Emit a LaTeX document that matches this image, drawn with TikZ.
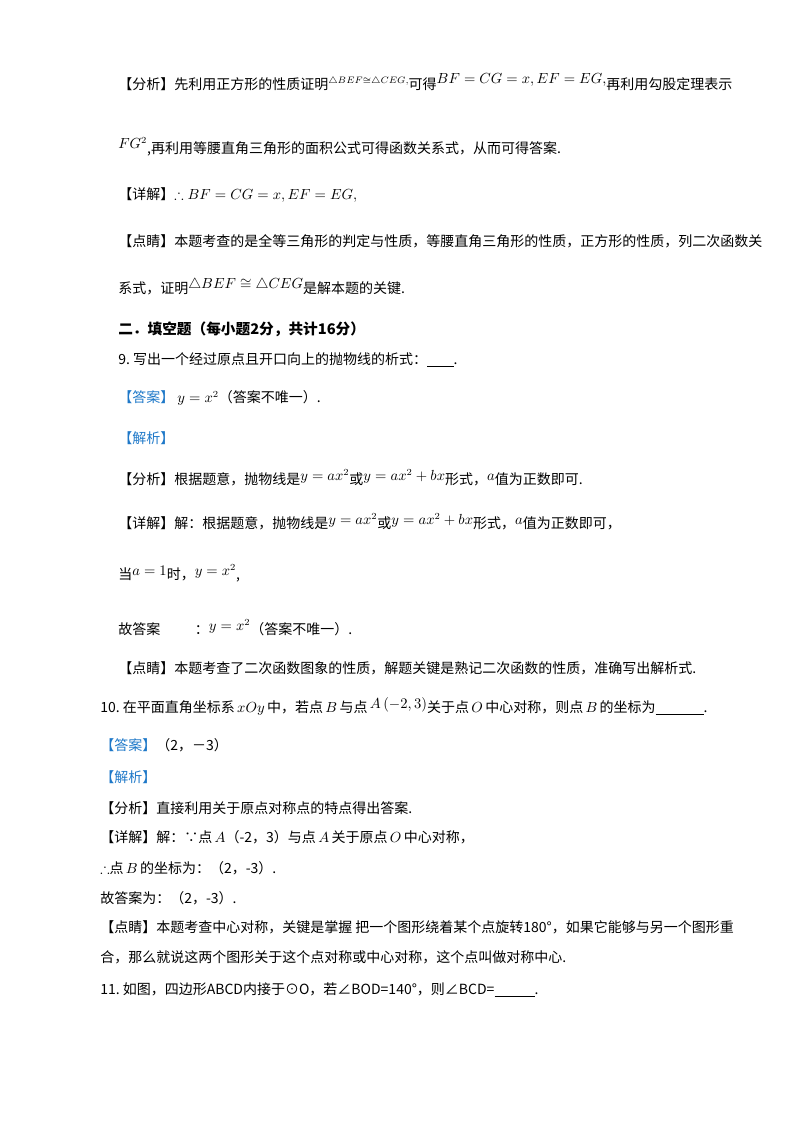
\documentclass[tikz,border=0pt]{standalone}
\usepackage{amssymb}
\usepackage[no-math]{fontspec}
\setmainfont{Noto Sans CJK SC}
\definecolor{ansblue}{RGB}{30,120,200}
\begin{document}
\begin{tikzpicture}[x=0.75pt,y=-0.75pt,
  ln/.style={anchor=west,inner sep=0pt,font=\fontsize{10.5pt}{12pt}\selectfont},
  hd/.style={ln,font=\fontsize{11pt}{13pt}\selectfont\bfseries}]
\path[use as bounding box] (0,0) rectangle (800,1132);
\node[ln] (l1) at (118,82) {【分析】先利用正方形的性质证明\raisebox{4pt}{$\scriptstyle\triangle BEF\cong\triangle CEG,$}可得\raisebox{4pt}{$BF=CG=x,EF=EG,$}再利用勾股定理表示};
\node[ln] (l2) at (118,147) {\raisebox{4pt}{$FG^2$},再利用等腰直角三角形的面积公式可得函数关系式，从而可得答案.};
\node[ln] (l3) at (118,195) {【详解】$\therefore BF=CG=x,EF=EG,$};
\node[ln] (l4) at (118,241) {【点睛】本题考查的是全等三角形的判定与性质，等腰直角三角形的性质，正方形的性质，列二次函数关};
\node[ln] (l5) at (118,287) {系式，证明\raisebox{4pt}{$\triangle BEF\cong\triangle CEG$}是解本题的关键.};
\node[hd] (l6) at (118,329) {二．填空题（每小题2分，共计16分）};
\node[ln] (l7) at (118,360) {9.\ 写出一个经过原点且开口向上的抛物线的析式：\underline{\hspace{20pt}}.};
\node[ln] (l8) at (118,398) {\textcolor{ansblue}{【答案】}\ $y=x^2$（答案不唯一）.};
\node[ln] (l9) at (118,438) {\textcolor{ansblue}{【解析】}};
\node[ln] (l10) at (118,478) {【分析】根据题意，抛物线是\raisebox{3pt}{$y=ax^2$}或\raisebox{3pt}{$y=ax^2+bx$}形式，\raisebox{3pt}{$a$}值为正数即可.};
\node[ln] (l11) at (118,522) {【详解】解：根据题意，抛物线是\raisebox{3pt}{$y=ax^2$}或\raisebox{3pt}{$y=ax^2+bx$}形式，\raisebox{3pt}{$a$}值为正数即可，};
\node[ln] (l12) at (118,573) {当\raisebox{3pt}{$a=1$}时，\raisebox{3pt}{$y=x^2$},};
\node[ln] (l13) at (118,628) {故答案\hspace{26pt}：\raisebox{3pt}{$y=x^2$}（答案不唯一）.};
\node[ln] (l14) at (118,668) {【点睛】本题考查了二次函数图象的性质，解题关键是熟记二次函数的性质，准确写出解析式.};
\node[ln] (l15) at (100,706) {10.\ 在平面直角坐标系\,$xOy$\,中，若点\,$B$\,与点\,\raisebox{3pt}{$A\left(-2,3\right)$}关于点\,$O$\,中心对称，则点\,$B$\,的坐标为\underline{\hspace{36pt}}.};
\node[ln] (l16) at (100,745) {\textcolor{ansblue}{【答案】}（2，－3）};
\node[ln] (l17) at (100,777) {\textcolor{ansblue}{【解析】}};
\node[ln] (l18) at (100,808) {【分析】直接利用关于原点对称点的特点得出答案.};
\node[ln] (l19) at (100,837) {【详解】解：∵点\,$A$（-2，3）与点\,$A$\,关于原点\,$O$\,中心对称，};
\node[ln] (l20) at (100,868) {$\therefore$点\,$B$\,的坐标为：（2，-3）.};
\node[ln] (l21) at (100,898) {故答案为：（2，-3）.};
\node[ln] (l22) at (100,927) {【点睛】本题考查中心对称，关键是掌握\ 把一个图形绕着某个点旋转180°，如果它能够与另一个图形重};
\node[ln] (l23) at (100,957) {合，那么就说这两个图形关于这个点对称或中心对称，这个点叫做对称中心.};
\node[ln] (l24) at (100,990) {11.\ 如图，四边形ABCD内接于⊙O，若∠BOD=140°，则∠BCD=\underline{\hspace{30pt}}.};
\end{tikzpicture}
\end{document}
